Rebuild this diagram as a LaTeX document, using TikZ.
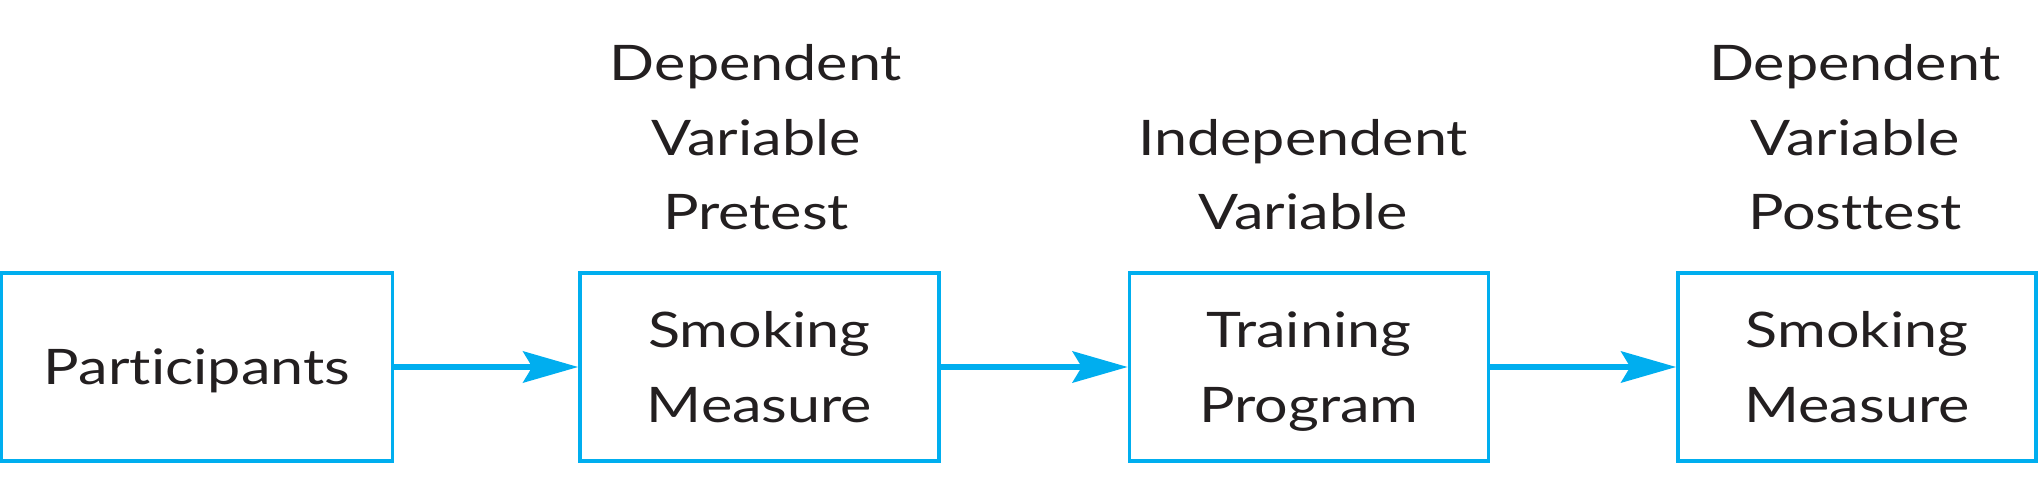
\documentclass[tikz,border=0pt]{standalone}
\usepackage{fontspec}
\setmainfont{Lato}[Ligatures=NoCommon, FakeStretch=1.21]
\usetikzlibrary{arrows.meta}
\definecolor{boxblue}{HTML}{00AEEF}
\definecolor{txt}{HTML}{231F20}
\tikzset{
  x=1pt,y=1pt,
  stagebox/.style={draw=boxblue, line width=3.5pt, rectangle, minimum height=188pt,
    align=center, text=txt, text depth=0pt, inner sep=0pt,
    font=\fontsize{49}{74.5}\selectfont},
  toplabel/.style={anchor=south, align=center, text=txt, text depth=0pt, inner sep=0pt,
    font=\fontsize{49}{74.5}\selectfont},
  flow/.style={draw=boxblue, line width=6.5pt, -{Stealth[length=55pt,width=31pt,inset=9pt]}}
}
\begin{document}
\begin{tikzpicture}
\useasboundingbox (0,0) rectangle (2039,490);
\node[stagebox, minimum width=391pt] (p) at (197,123) {Participants};
\node[stagebox, minimum width=359pt] (pre) at (759.5,123) {Smoking\\Measure};
\node[stagebox, minimum width=359pt] (tr) at (1309,123) {Training\\Program};
\node[stagebox, minimum width=358pt] (post) at (1857,123) {Smoking\\Measure};
\node[toplabel] (l1) at (756,260) {Dependent\\Variable\\Pretest};
\node[toplabel] (l2) at (1303,260) {Independent\\Variable};
\node[toplabel] (l3) at (1855,260) {Dependent\\Variable\\Posttest};
\draw[flow] (p) -- (pre);
\draw[flow] (pre) -- (tr);
\draw[flow] (tr) -- (post);
\end{tikzpicture}
\end{document}
